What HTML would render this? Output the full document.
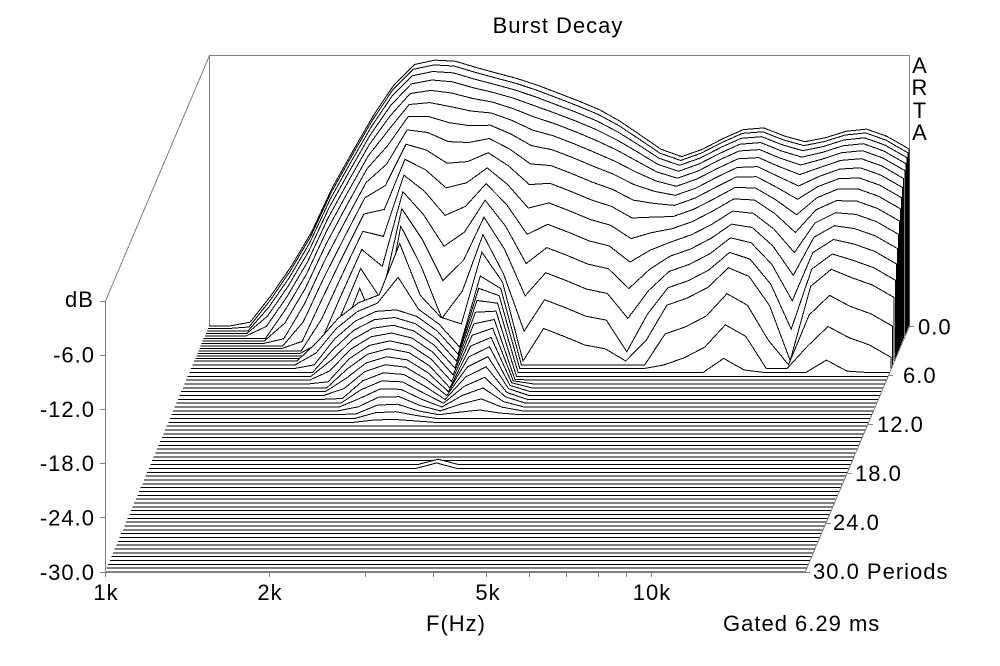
<!DOCTYPE html>
<html>
<head>
<meta charset="utf-8">
<style>
html,body{margin:0;padding:0;background:#fff;}
svg{display:block;}
text{font-family:"Liberation Sans",Arial,sans-serif;font-size:22px;fill:#000;letter-spacing:1px;}
</style>
</head>
<body>
<svg id="c" width="1000" height="666" viewBox="0 0 1000 666" xmlns="http://www.w3.org/2000/svg">
<rect x="0" y="0" width="1000" height="666" fill="#fff"/>
<path d="M209.5 326 V55.5 H909.5 V326" stroke="#808080" stroke-width="1" fill="none" shape-rendering="crispEdges"/>
<g id="slices" shape-rendering="crispEdges"></g>
<g stroke="#808080" stroke-width="1" fill="none" shape-rendering="crispEdges">
  <path d="M209.5 55.5 L105.5 301"/>
  <path d="M105.5 301 V572.5"/>
  <path d="M105 572.5 H805"/>
  <path d="M909.5 326 L805 572.5"/>
  <path d="M100 301.5 H105 M100 355.5 H105 M100 409.5 H105 M100 463.5 H105 M100 517.5 H105 M100 572.5 H105"/>
  <path d="M105.5 572 V577 M269.5 572 V577 M365.5 572 V577 M433.5 572 V577 M486.5 572 V577 M529.5 572 V577 M566.5 572 V577 M598.5 572 V577 M626.5 572 V577 M651.5 572 V577"/>
  <path d="M909 326.5 H914 M888 375.5 H893 M868 424.5 H873 M847 473.5 H852 M826 523.5 H831 M805 572.5 H810"/>
</g>
<text x="558" y="33" text-anchor="middle">Burst Decay</text>
<text x="920" y="73" text-anchor="middle">A</text>
<text x="920" y="95" text-anchor="middle">R</text>
<text x="920" y="118" text-anchor="middle">T</text>
<text x="920" y="140" text-anchor="middle">A</text>
<text x="65" y="307">dB</text>
<text x="95" y="362.5" text-anchor="end">-6.0</text>
<text x="95" y="417" text-anchor="end">-12.0</text>
<text x="95" y="471" text-anchor="end">-18.0</text>
<text x="95" y="525.5" text-anchor="end">-24.0</text>
<text x="95" y="580" text-anchor="end">-30.0</text>
<text x="106" y="600" text-anchor="middle">1k</text>
<text x="270" y="600" text-anchor="middle">2k</text>
<text x="488" y="600" text-anchor="middle">5k</text>
<text x="652" y="600" text-anchor="middle">10k</text>
<text x="456" y="631" text-anchor="middle">F(Hz)</text>
<text x="723" y="631">Gated 6.29 ms</text>
<text x="918" y="334.5">0.0</text>
<text x="903" y="383">6.0</text>
<text x="877" y="432">12.0</text>
<text x="855" y="481">18.0</text>
<text x="833" y="530">24.0</text>
<text x="813" y="579">30.0 Periods</text>
</svg>
<script>
(function(){
  var L0=[[209,-30],[245,-30],[257,-29],[273,-26.3],[287,-24.1],[307,-20.8],[320,-17.4],[340,-13],[360,-9.3],[377,-6],[393,-3.4],[415,-1],[425,-0.5],[457,-0.7],[470,-1.2],[500,-2.1],[527,-2.9],[560,-4.3],[593,-5.7],[613,-6.8],[637,-8.6],[660,-10.4],[683,-11.3],[710,-10.1],[733,-8.6],[757,-7.8],[777,-8.6],[797,-9.6],[813,-9.6],[830,-9],[853,-8.2],[867,-8.2],[887,-9],[909,-10.4]];
  function interp(tab,x){
    if(x<=tab[0][0])return tab[0][1];
    for(var i=1;i<tab.length;i++){
      if(x<=tab[i][0]){var a=tab[i-1],b=tab[i];return a[1]+(b[1]-a[1])*(x-a[0])/(b[0]-a[0]);}
    }
    return tab[tab.length-1][1];
  }
  var X=[];for(var i=0;i<35;i++)X.push(209+20.55*i);X.push(909);
  var mod=[];for(i=0;i<X.length;i++)mod.push(0);
  var mm={7:0.3,8:0.6,9:-0.8,10:0.8,11:0.0,12:-0.9,13:-0.3,14:0.8,15:0.2,16:-0.7,20:-0.2,21:-1.2,22:-0.6,26:0.15,28:-0.3,29:-1.0,31:0.15};
  for(var key in mm)mod[+key]=mm[key];
  var DB=9.033;
  var out='';
  for(var k=0;k<70;k++){
    var yb=k<=14?326+2.5*k:361+(k-14)*211/55;
    var t=(yb-326)/8.2, sh=(yb-326)*104/246;
    var pts=[];
    for(i=0;i<X.length;i++){
      var xb=X[i], s=xb-sh;
      var w=Math.min(1,Math.max(0,(xb-610)/40));
      var a=1.1*(1-w)+0.62*w, b=0.5*(1-w)+0.3*w;
      var tm=Math.min(t,4.6);
      var v=interp(L0,xb)-(a*t*t+b*t)+mod[i]*0.1*tm*tm*tm;
      if(t>4){
        var P=-18.5-0.95*t, hw=Math.max(35,120-8*t);
        var d=(s-390)/hw;
        if(Math.abs(d)<1)v=Math.max(v,P-(P+30)*d*d);
      }
      if(t>3){
        var Pb=-10-1.8*t, cb=497-1.8*t, db=Math.abs(s-cb)/30;
        if(db<1)v=Math.max(v,Pb-(Pb+30)*Math.pow(db,1.5));
      }
      if((k==41||k==42)&&i==14)v=Math.max(v,-29.4);
      v=Math.max(-30,Math.min(0,v));
      pts.push([s,yb-(v+30)*DB]);
    }
    var line='M'+pts[0][0].toFixed(1)+' '+pts[0][1].toFixed(1);
    for(i=1;i<pts.length;i++)line+=' L'+pts[i][0].toFixed(1)+' '+pts[i][1].toFixed(1);
    var last=pts[pts.length-1];
    var fill=line+' L'+last[0].toFixed(1)+' '+yb.toFixed(1)+' L'+pts[0][0].toFixed(1)+' '+yb.toFixed(1)+' Z';
    line+=' L'+last[0].toFixed(1)+' '+yb.toFixed(1);
    out+='<path d="'+fill+'" fill="#fff" stroke="none"/>';
    out+='<path d="'+line+'" fill="none" stroke="#000" stroke-width="1"/>';
  }
  document.getElementById('slices').innerHTML=out;
})();
</script>
</body>
</html>
